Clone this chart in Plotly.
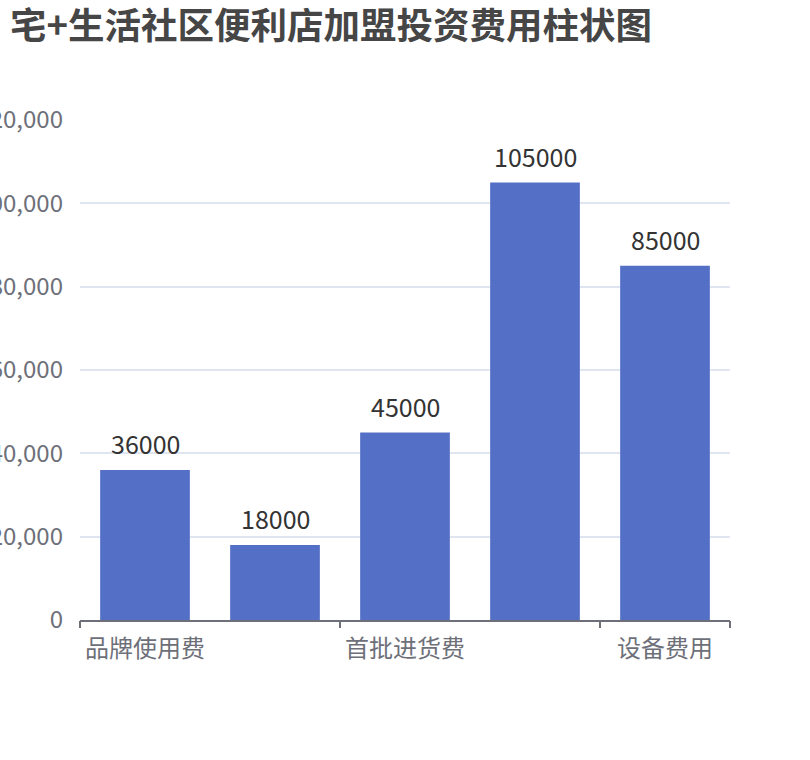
import plotly.graph_objects as go

categories = ["品牌使用费", "店铺装修费", "首批进货费", "店面租金", "设备费用"]
values = [36000, 18000, 45000, 105000, 85000]
shown_labels = ["品牌使用费", "首批进货费", "设备费用"]
y_ticks = [0, 20000, 40000, 60000, 80000, 100000, 120000]
title = "宅+生活社区便利店加盟投资费用柱状图"

font_family = "Noto Sans CJK SC"
axis_color = "#6e7079"

fig = go.Figure(go.Bar(
    x=categories,
    y=values,
    marker_color="#5470c6",
    marker_line_width=0,
))

# value labels above bars
for c, v in zip(categories, values):
    fig.add_annotation(x=c, y=v, text=str(v), showarrow=False,
                       yanchor="bottom", yshift=7,
                       font=dict(size=25, color="#333333"))

# boundaries where the ticks sit (every other category)
boundaries = [-0.5, 1.5, 3.5, 4.5]
fig.add_trace(go.Scatter(x=[-0.5, 4.5], y=[0, 0], xaxis="x2", mode="lines",
                         line=dict(width=0), hoverinfo="skip", showlegend=False))

fig.update_layout(
    width=810,
    height=760,
    margin=dict(l=80, r=80, t=120, b=140),
    paper_bgcolor="white",
    plot_bgcolor="white",
    font=dict(family=font_family, color=axis_color),
    bargap=0.31,
    showlegend=False,
    title=dict(
        text="<b>" + title + "</b>",
        font=dict(size=36.5, color="#464646", family=font_family),
        xref="container", x=10 / 810, xanchor="left",
        yref="container", y=1 - 26 / 760, yanchor="middle",
    ),
    xaxis=dict(
        type="category",
        tickvals=shown_labels,
        ticks="",
        showline=True,
        linecolor=axis_color,
        linewidth=1.5,
        tickfont=dict(size=24, color=axis_color),
        ticklabelstandoff=6,
        showgrid=False,
        automargin=False,
    ),
    xaxis2=dict(
        overlaying="x",
        anchor="y",
        side="bottom",
        range=[-0.5, 4.5],
        tickvals=boundaries,
        showticklabels=False,
        ticks="outside",
        ticklen=7,
        tickwidth=1.5,
        tickcolor=axis_color,
        showgrid=False,
        zeroline=False,
        showline=False,
    ),
    yaxis=dict(
        range=[0, 120000],
        tickvals=y_ticks,
        tickformat=",",
        gridcolor="#e0e6f1",
        gridwidth=1.5,
        zeroline=False,
        tickfont=dict(size=24, color=axis_color),
        ticklabelstandoff=16,
        automargin=False,
    ),
)

# drop the page's default body margin so the chart sits at the window corner
fig.write_html("out.html", config={"displayModeBar": False},
               post_script="document.body.style.margin='0';")
